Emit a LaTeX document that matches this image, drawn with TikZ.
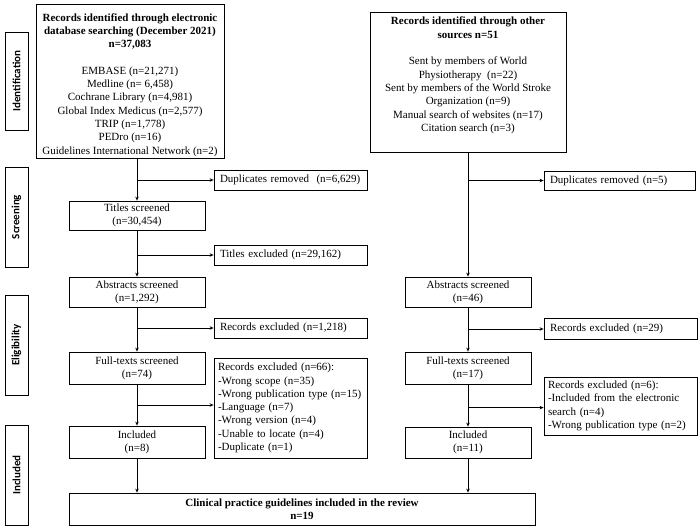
\documentclass[tikz,border=0pt]{standalone}
\usepackage{fontspec}
\setmainfont{Liberation Serif}
\newfontfamily\sidefont{Carlito}
\usetikzlibrary{arrows.meta,calc}
\begin{document}
\begin{tikzpicture}[x=1pt,y=-1pt,
  box/.style={draw,line width=0.8pt,inner sep=2pt,font=\fontsize{11}{13.3}\selectfont,align=center},
  lbox/.style={box,align=left,inner xsep=4pt,text width=#1},
  side/.style={draw,line width=0.8pt,minimum width=23pt,minimum height=100pt,inner sep=0pt},
  sidetxt/.style={rotate=90,font=\sidefont\bfseries\fontsize{11}{12}\selectfont},
  arr/.style={line width=0.8pt,-{Stealth[length=4pt,width=3.5pt]}},
  ln/.style={line width=0.8pt}]
\useasboundingbox (0,0) rectangle (700,530);
% side labels
\node[side,minimum height=98pt] (sid) at (16.5,81) {};
\node[sidetxt] (sidt) at (sid.center) {Identification};
\node[side] (sscr) at (16.5,217) {};
\node[sidetxt] (sscrt) at (sscr.center) {Screening};
\node[side] (selg) at (16.5,345) {};
\node[sidetxt] (selgt) at (selg.center) {Eligibility};
\node[side] (sinc) at (16.5,475) {};
\node[sidetxt] (sinct) at (sinc.center) {Included};
% left column
\node[box,minimum width=188pt,minimum height=153pt] (src1) at (130,81.5) {\rule{0pt}{14.5pt}\textbf{Records identified through electronic}\\\textbf{database searching (December 2021)}\\\textbf{n=37,083}\\[13.3pt]EMBASE (n=21,271)\\Medline (n= 6,458)\\Cochrane Library (n=4,981)\\Global Index Medicus (n=2,577)\\TRIP (n=1,778)\\PEDro (n=16)\\Guidelines International Network (n=2)};
\node[lbox=141pt,inner xsep=6pt,minimum height=20pt] (dup1) at (290.5,180) {Duplicates removed\ \ (n=6,629)};
\node[box,minimum width=136pt,minimum height=29pt] (tit1) at (137,215.5) {Titles screened\\(n=30,454)};
\node[lbox=141pt,inner xsep=6pt,minimum height=20pt] (tex1) at (290.5,255) {Titles excluded\ (n=29,162)};
\node[box,minimum width=136pt,minimum height=30pt] (abs1) at (137,292) {Abstracts screened\\(n=1,292)};
\node[lbox=141pt,inner xsep=6pt,minimum height=20pt] (rex1) at (290.5,328) {Records excluded\ (n=1,218)};
\node[box,minimum width=136pt,minimum height=32pt] (ful1) at (137,368) {Full-texts screened\\(n=74)};
\node[lbox=145pt,minimum height=100pt] (rex66) at (290.5,408) {Records excluded (n=66):\\-Wrong scope (n=35)\\-Wrong publication type (n=15)\\-Language (n=7)\\-Wrong version (n=4)\\-Unable to locate (n=4)\\-Duplicate (n=1)};
\node[box,minimum width=136pt,minimum height=32pt] (inc1) at (137,442) {Included\\(n=8)};
% right column
\node[box,minimum width=196pt,minimum height=140pt] (src2) at (468,82) {\textbf{Records identified through other}\\\textbf{sources n=51}\\[13.3pt]Sent by members of World\\Physiotherapy\ \ (n=22)\\Sent by members of the World Stroke\\Organization (n=9)\\Manual search of websites (n=17)\\Citation search (n=3)\rule[-15.5pt]{0pt}{1pt}};
\node[lbox=139pt,inner xsep=6pt,minimum height=19pt] (dup2) at (619.5,180.5) {Duplicates removed\ (n=5)};
\node[box,minimum width=126pt,minimum height=30pt] (abs2) at (468,292) {Abstracts screened\\(n=46)};
\node[lbox=141pt,inner xsep=6pt,minimum height=21pt] (rex2) at (620.5,329) {Records excluded\ (n=29)};
\node[box,minimum width=126pt,minimum height=32pt] (ful2) at (468,368) {Full-texts screened\\(n=17)};
\node[lbox=145pt,minimum height=58pt] (rex6) at (620.5,406) {Records excluded (n=6):\\-Included from the electronic\\search (n=4)\\-Wrong publication type (n=2)};
\node[box,minimum width=126pt,minimum height=31pt] (inc2) at (468,442.5) {Included\\(n=11)};
% final
\node[box,minimum width=466pt,minimum height=32pt] (fin) at (302,509) {\textbf{Clinical practice guidelines included in the review}\\\textbf{n=19}};
% connectors left
\draw[arr] (tit1.north |- src1.south) -- (tit1.north);
\draw[arr] (tit1.north |- dup1.west) -- (dup1.west);
\draw[arr] (tit1.south) -- (abs1.north);
\draw[arr] (tit1.south |- tex1.west) -- (tex1.west);
\draw[arr] (abs1.south) -- (ful1.north);
\draw[arr] (abs1.south |- rex1.west) -- (rex1.west);
\draw[arr] (ful1.south) -- (inc1.north);
\coordinate (b66) at ($(ful1.south)!0.5!(inc1.north)$);
\draw[arr] (b66) -- (b66 -| rex66.west);
\draw[arr] (inc1.south) -- (inc1.south |- fin.north);
% connectors right
\draw[arr] (src2.south) -- (abs2.north);
\draw[arr] (src2.south |- dup2.west) -- (dup2.west);
\draw[arr] (abs2.south) -- (ful2.north);
\draw[arr] (abs2.south |- rex2.west) -- (rex2.west);
\draw[arr] (ful2.south) -- (inc2.north);
\coordinate (b6) at ($(ful2.south)!0.55!(inc2.north)$);
\draw[arr] (b6) -- (b6 -| rex6.west);
\draw[arr] (inc2.south) -- (inc2.south |- fin.north);
\end{tikzpicture}
\end{document}
